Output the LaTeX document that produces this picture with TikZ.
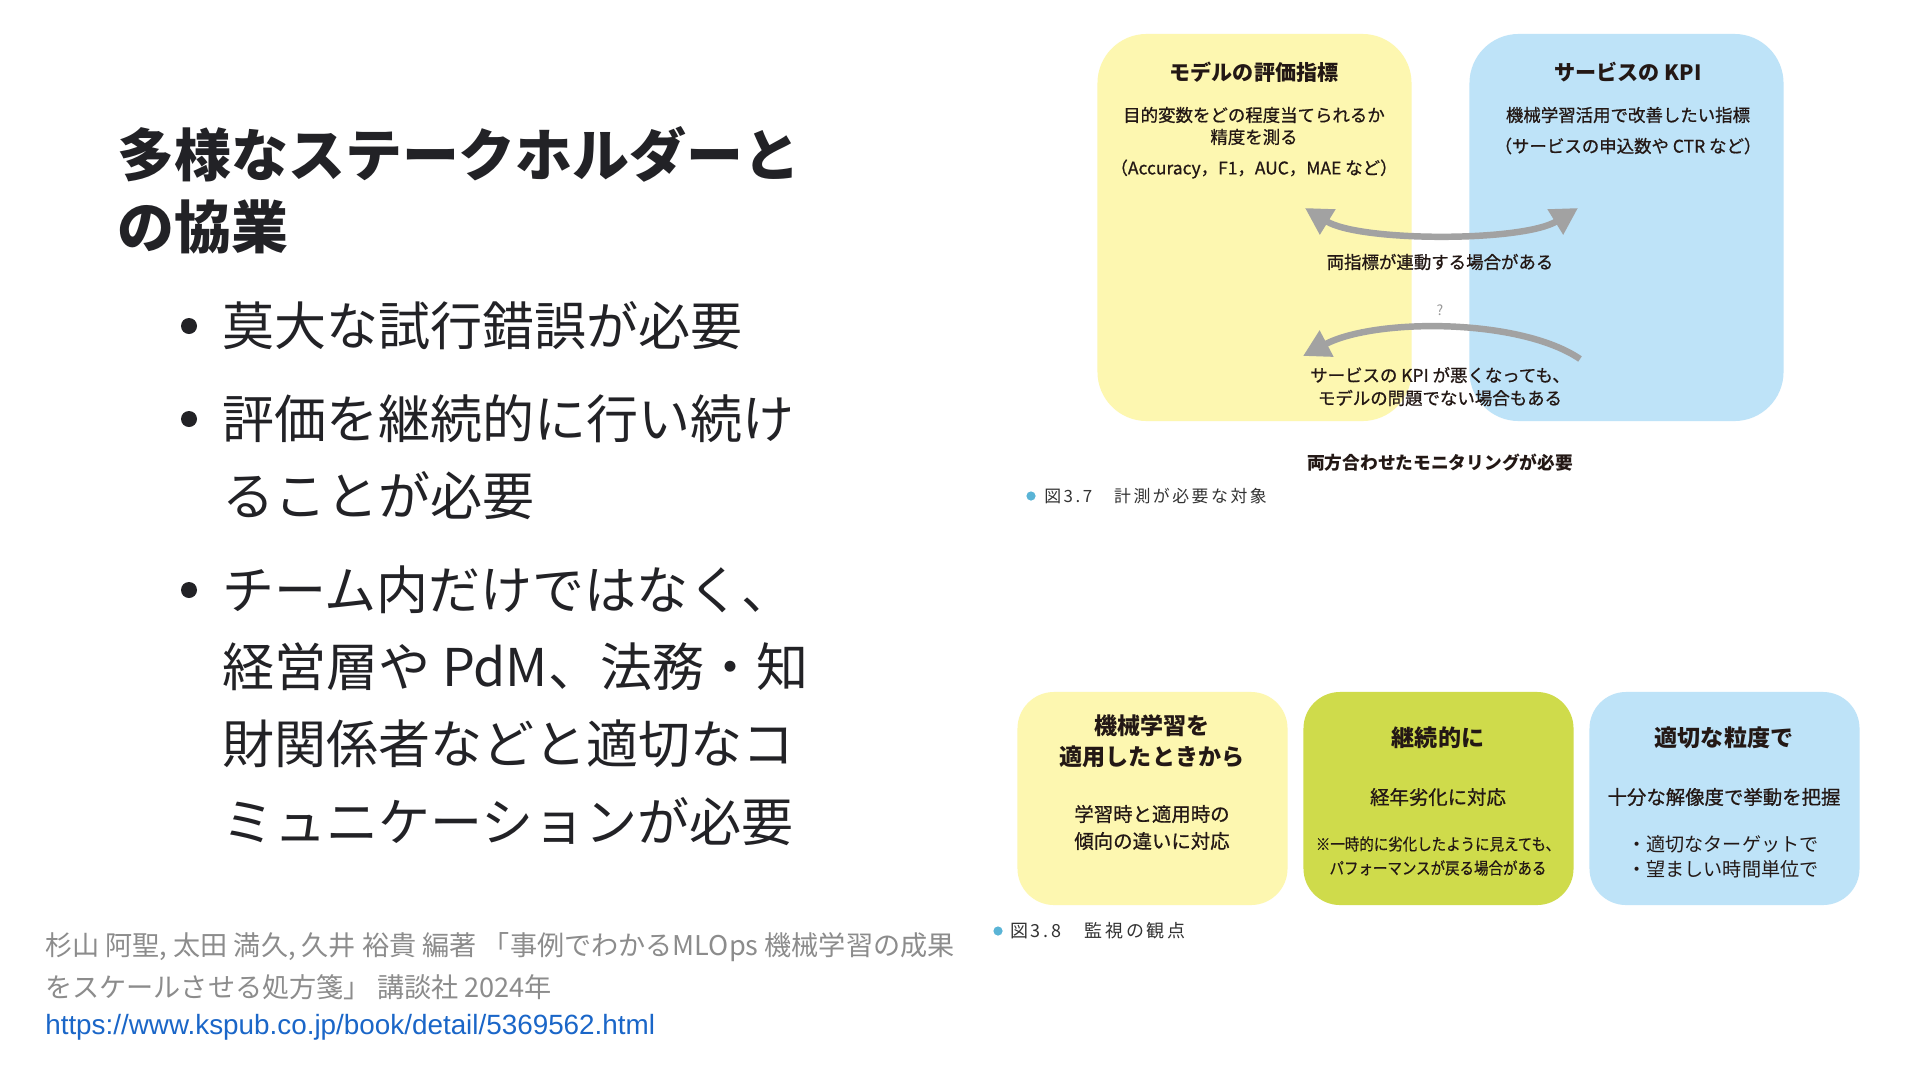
\documentclass[tikz,border=0pt]{standalone}
\usepackage{fontspec}
\setmainfont{Noto Sans CJK JP}
\newfontfamily\midfont[FakeBold=0.8]{Noto Sans CJK JP}
\newfontfamily\notefont[FakeStretch=0.88,FakeBold=0.5]{Noto Sans CJK JP}
\newfontfamily\capfont[LetterSpace=15]{Noto Sans CJK JP}
\newfontfamily\urlfont{Liberation Sans}
\usetikzlibrary{arrows.meta,positioning}
\definecolor{boxyellow}{HTML}{FDF7B0}
\definecolor{boxblue}{HTML}{BEE3F8}
\definecolor{boxgreen}{HTML}{CFDB4B}
\definecolor{arrowgray}{HTML}{A2A2A2}
\definecolor{inkblack}{HTML}{231815}
\definecolor{slidetext}{HTML}{222226}
\definecolor{creditgray}{HTML}{8C8C8C}
\definecolor{linkblue}{HTML}{1A66C8}
\definecolor{captiondot}{HTML}{5AB4D6}

\begin{document}
\begin{tikzpicture}[x=0.025cm,y=-0.025cm,>={Triangle[length=19pt,width=20pt]},
    every node/.style={inner sep=0pt,text=inkblack},
    bigbox/.style={rounded corners=35pt,minimum width=7.85cm,minimum height=9.675cm},
    smallbox/.style={rounded corners=26pt,minimum width=6.75cm,minimum height=5.325cm},
    figtitle/.style={font=\bfseries\fontsize{15pt}{18pt}\selectfont},
    figbody/.style={font=\midfont\fontsize{12.4pt}{15pt}\selectfont},
    cardtitle/.style={font=\bfseries\fontsize{16.4pt}{20pt}\selectfont},
    cardbody/.style={font=\midfont\fontsize{13.8pt}{17pt}\selectfont},
    cardnote/.style={font=\notefont\fontsize{11.7pt}{14pt}\selectfont},
    cardlist/.style={anchor=west,font=\fontsize{13.6pt}{17pt}\selectfont},
    figcaption/.style={anchor=west,text=black!80,font=\capfont\fontsize{#1}{#1}\selectfont},
    capdot/.style={circle,fill=captiondot,minimum size=0.23cm},
    bulletdot/.style={circle,fill=slidetext,minimum size=0.4cm},
    slideline/.style={anchor=west,text=slidetext,font=\fontsize{37pt}{44pt}\selectfont},
    slidetitle/.style={anchor=west,text=slidetext,font=\bfseries\fontsize{40.5pt}{48pt}\selectfont},
    creditline/.style={anchor=west,text=creditgray,font=\fontsize{19.3pt}{22pt}\selectfont},
    grayarrow/.style={line width=4.6pt,draw=arrowgray}]
  \fill[white] (0,0) rectangle (1920,1080);
  \useasboundingbox (0,0) rectangle (1920,1080);

  % slide text
  \node[slidetitle] (title1) at (117,154) {多様なステークホルダーと};
  \node[slidetitle] (title2) at (117,227) {の協業};
  \node[bulletdot] (dot1) at (189,326) {};
  \node[bulletdot] (dot2) at (189,419) {};
  \node[bulletdot] (dot3) at (189,590) {};
  \node[slideline] (line1) at (222,326) {莫大な試行錯誤が必要};
  \node[slideline] (line2) at (222,419) {評価を継続的に行い続け};
  \node[slideline] (line3) at (222,496) {ることが必要};
  \node[slideline] (line4) at (222,590) {チーム内だけではなく、};
  \node[slideline] (line5) at (222,667) {経営層や PdM、法務・知};
  \node[slideline] (line6) at (222,744) {財関係者などと適切なコ};
  \node[slideline] (line7) at (222,822) {ミュニケーションが必要};

  % source
  \node[creditline] (credit1) at (45,947) {杉山 阿聖, 太田 満久, 久井 裕貴 編著 「事例でわかるMLOps 機械学習の成果};
  \node[creditline] (credit2) at (45,987) {をスケールさせる処方箋」 講談社 2024年};
  \node[anchor=west,text=linkblue,font=\urlfont\fontsize{19.8pt}{22pt}\selectfont] (url) at (45,1027)
    {https://www.kspub.co.jp/book/detail/5369562.html};

  % figure 3.7
  \node[bigbox,fill=boxyellow] (evalbox) at (1254.5,227.5) {};
  \node[bigbox,fill=boxblue] (kpibox) at (1626.5,227.5) {};
  \node[figtitle] (evaltitle) at (1254,72) {モデルの評価指標};
  \node[figbody] (evalline1) at (1254,115) {目的変数をどの程度当てられるか};
  \node[figbody] (evalline2) at (1254,137) {精度を測る};
  \node[figbody] (evalline3) at (1254,169) {（Accuracy，F1，AUC，MAE など）};
  \node[figtitle] (kpititle) at (1628,72) {サービスの KPI};
  \node[figbody] (kpiline1) at (1628,115) {機械学習活用で改善したい指標};
  \node[figbody] (kpiline2) at (1628,146) {（サービスの申込数や CTR など）};

  \coordinate (linkL) at (1305,208);
  \coordinate (linkR) at (1578,208);
  \draw[grayarrow,<->] (linkL) .. controls (1360,242) and (1523,242) .. (linkR);
  \node[figbody] (linktext) at (1440,262) {両指標が連動する場合がある};
  \node[text=black!40,font=\fontsize{10pt}{12pt}\selectfont] (doubt) at (1440,310) {?};
  \coordinate (doubtR) at (1580,359);
  \coordinate (doubtL) at (1303,356);
  \draw[grayarrow,->] (doubtR) .. controls (1520,318) and (1375,318) .. (doubtL);
  \node[figbody] (doubtline1) at (1440,375) {サービスの KPI が悪くなっても、};
  \node[figbody] (doubtline2) at (1440,398) {モデルの問題でない場合もある};
  \node[figtitle,font=\bfseries\fontsize{12.6pt}{15pt}\selectfont] (bothtext) at (1440,463) {両方合わせたモニタリングが必要};
  \node[capdot] (capdot1) at (1031,496) {};
  \node[figcaption=12pt] (caption1) at (1044,496) {図3.7　計測が必要な対象};

  % figure 3.8
  \node[smallbox,fill=boxyellow] (startcard) at (1152.5,798.5) {};
  \node[smallbox,fill=boxgreen] (keepcard) at (1438.5,798.5) {};
  \node[smallbox,fill=boxblue] (grancard) at (1724.5,798.5) {};
  \node[cardtitle] (starttitle1) at (1152,726) {機械学習を};
  \node[cardtitle] (starttitle2) at (1152,757) {適用したときから};
  \node[cardbody] (startline1) at (1152,814) {学習時と適用時の};
  \node[cardbody] (startline2) at (1152,841) {傾向の違いに対応};
  \node[cardtitle] (keeptitle) at (1438,738) {継続的に};
  \node[cardbody] (keepline) at (1438,797) {経年劣化に対応};
  \node[cardnote] (keepnote1) at (1438,844) {※一時的に劣化したように見えても、};
  \node[cardnote] (keepnote2) at (1438,868) {パフォーマンスが戻る場合がある};
  \node[cardtitle] (grantitle) at (1724,738) {適切な粒度で};
  \node[cardbody] (granline) at (1724,797) {十分な解像度で挙動を把握};
  \node[cardlist] (granitem1) at (1627,844) {・適切なターゲットで};
  \node[cardlist] (granitem2) at (1627,869) {・望ましい時間単位で};
  \node[capdot] (capdot2) at (998,931) {};
  \node[figcaption=12.8pt] (caption2) at (1010,931) {図3.8　監視の観点};
\end{tikzpicture}
\end{document}
